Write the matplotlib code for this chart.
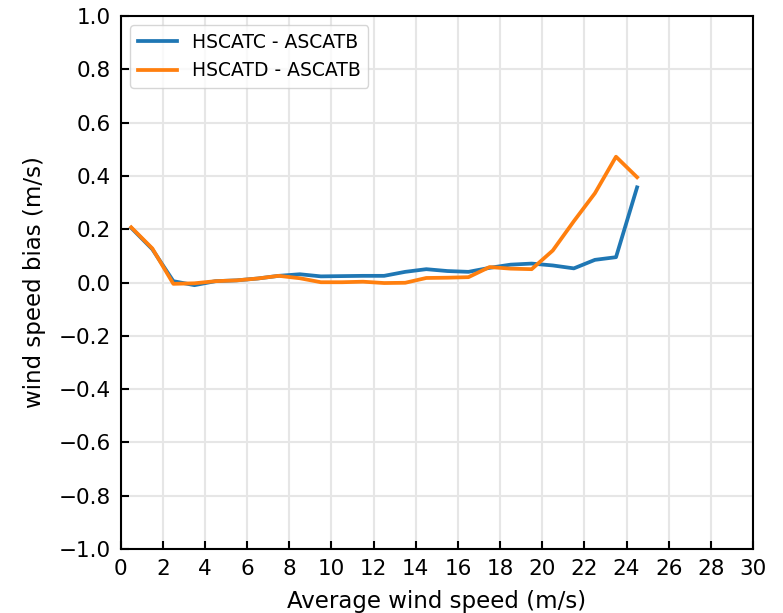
import matplotlib
matplotlib.use('Agg')
import matplotlib.pyplot as plt

# bin centres of average wind speed (m/s)
wind_speed = [0.5, 1.5, 2.5, 3.5, 4.5, 5.5, 6.5, 7.5, 8.5, 9.5, 10.5, 11.5, 12.5,
              13.5, 14.5, 15.5, 16.5, 17.5, 18.5, 19.5, 20.5, 21.5, 22.5, 23.5, 24.5]

# wind speed bias (m/s)
bias_hscatc = [0.205, 0.125, 0.005, -0.01, 0.005, 0.008, 0.015, 0.025, 0.031, 0.023,
               0.024, 0.025, 0.025, 0.04, 0.05, 0.043, 0.04, 0.055, 0.067, 0.071,
               0.064, 0.053, 0.085, 0.095, 0.357]
bias_hscatd = [0.207, 0.128, -0.005, -0.003, 0.005, 0.008, 0.015, 0.025, 0.016, 0.001,
               0.001, 0.003, -0.002, -0.001, 0.017, 0.018, 0.02, 0.058, 0.052, 0.05,
               0.12, 0.23, 0.335, 0.472, 0.395]

fig = plt.figure(figsize=(7.83, 6.13), dpi=100)
ax = fig.add_axes([0.1541, 0.1044, 0.8076, 0.8695])

ax.grid(color='#e6e6e6', linewidth=1.5, zorder=0)
ax.axhline(0, color='#444444', linewidth=1.4, zorder=1)
ax.plot(wind_speed, bias_hscatc, color='#1f77b4', linewidth=2.7, label='HSCATC - ASCATB', zorder=3)
ax.plot(wind_speed, bias_hscatd, color='#ff7f0e', linewidth=2.7, label='HSCATD - ASCATB', zorder=3)

ax.set_xlim(0, 30)
ax.set_ylim(-1.0, 1.0)
ax.set_xticks(range(0, 31, 2))
ax.set_yticks([-1.0, -0.8, -0.6, -0.4, -0.2, 0.0, 0.2, 0.4, 0.6, 0.8, 1.0])
ax.tick_params(direction='in', length=5.5, width=1.5, labelsize=15.5, pad=7)
for sp in ax.spines.values():
    sp.set_linewidth(1.5)

ax.set_xlabel('Average wind speed (m/s)', fontsize=16.5, labelpad=8)
ax.set_ylabel('wind speed bias (m/s)', fontsize=16.5, labelpad=9)
ax.legend(loc='upper left', fontsize=13.5, handlelength=2.1)

fig.savefig('out.png', dpi=100)
